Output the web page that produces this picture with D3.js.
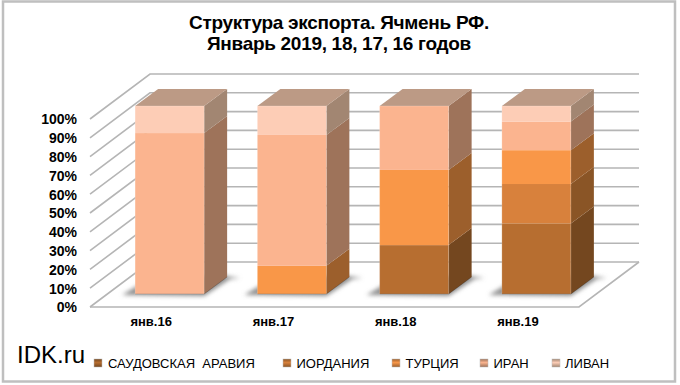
<!DOCTYPE html>
<html>
<head>
<meta charset="utf-8">
<script src="https://cdnjs.cloudflare.com/ajax/libs/d3/7.8.5/d3.min.js"></script>
<style>
  html, body { margin: 0; padding: 0; background: #fff; }
  svg { display: block; font-family: "Liberation Sans", Arial, sans-serif; }
  text { fill: #000; }
</style>
</head>
<body>
<svg id="chart" width="680" height="385"></svg>
<script>
const months = ["янв.16", "янв.17", "янв.18", "янв.19"];
const countries = ["САУДОВСКАЯ  АРАВИЯ", "ИОРДАНИЯ", "ТУРЦИЯ", "ИРАН", "ЛИВАН"];
const saudi = [0, 0, 26, 37.5];
const jordan = [0, 0, 0, 21];
const turkey = [0, 15, 40, 18];
const iran = [85.6, 69.6, 34, 15.2];
const lebanon = [14.4, 15.4, 0, 8.3];
const yTicks = [0, 10, 20, 30, 40, 50, 60, 70, 80, 90, 100];
const titleLines = ["Структура экспорта. Ячмень РФ.", "Январь 2019, 18, 17, 16 годов"];

const frontColors = ["#b76e30", "#d8813c", "#f99748", "#fbb48f", "#fdcdb6"];
const sideColors = ["#74471f", "#8a5526", "#9c5f2c", "#9e735a", "#a28672"];
const topColor = "#bc9a85";

const seriesValues = [saudi, jordan, turkey, iran, lebanon];
const rows = months.map((m, i) => {
    let r = { month: m };
    countries.forEach((c, k) => r[c] = seriesValues[k][i]);
    return r;
});

const svg = d3.select("#chart");

// the 3d box: front plane of the floor, then how far it goes back
const floor = { left: 90, right: 579, depthX: 60, depthY: -45 };
const bar = { width: 69, shiftX: 18.5, shiftY: -13, depthX: 23, depthY: -17 };

const x = d3.scaleBand().domain(months).range([floor.left, floor.right]);
const y = d3.scaleLinear().domain([0, 100]).range([307, 119]);
const stacked = d3.stack().keys(countries)(rows);

const defs = svg.append("defs");
defs.append("filter").attr("id", "soft")
    .attr("x", "-30%").attr("y", "-60%").attr("width", "160%").attr("height", "220%")
    .append("feGaussianBlur").attr("stdDeviation", 2.2);

frontColors.forEach((c, i) => {
    let g = defs.append("linearGradient").attr("id", "sw" + i)
        .attr("x1", 0).attr("y1", 0).attr("x2", 0).attr("y2", 1);
    g.append("stop").attr("offset", "0%").attr("stop-color", sideColors[i]);
    g.append("stop").attr("offset", "45%").attr("stop-color", c);
    g.append("stop").attr("offset", "100%").attr("stop-color", sideColors[i]);
});

// frame
svg.append("rect")
    .attr("x", 3).attr("y", 1.5)
    .attr("width", 672).attr("height", 380)
    .attr("fill", "#fff").attr("stroke", "#bfbfbf").attr("stroke-width", 2.5);

// title
svg.append("g").selectAll("text").data(titleLines).join("text")
    .attr("x", 339)
    .attr("y", (d, i) => 29 + i * 21)
    .attr("text-anchor", "middle")
    .attr("font-size", 19)
    .attr("font-weight", "bold")
    .attr("letter-spacing", -0.3)
    .text(d => d);

// grid: side wall diagonals + back wall
const grid = svg.append("g")
    .attr("fill", "none").attr("stroke", "#b5b5b5").attr("stroke-width", 1.6);
grid.selectAll("path").data(yTicks).join("path")
    .attr("d", t => d3.line()([
        [floor.left, y(t)],
        [floor.left + floor.depthX, y(t) + floor.depthY],
        [floor.right + floor.depthX, y(t) + floor.depthY]
    ]));
// floor outline
grid.append("path")
    .attr("d", d3.line()([
        [floor.left, y(0)],
        [floor.right, y(0)],
        [floor.right + floor.depthX, y(0) + floor.depthY]
    ]));

// bars
const barX = m => x(m) + x.bandwidth() / 2 + bar.shiftX - bar.width / 2;
const barY = v => y(v) + bar.shiftY;

// shadows on the floor
svg.append("g").selectAll("path").data(months).join("path")
    .attr("d", m => {
        let l = barX(m), b = barY(0);
        return d3.line()([
            [l - 13, b + 1], [l + bar.width, b + 2],
            [l + bar.width + bar.depthX + 3, b + bar.depthY + 2],
            [l + bar.width + bar.depthX + 13, b + bar.depthY + 1],
            [l + bar.width + bar.depthX - 8, b + bar.depthY - 2],
            [l + 12, b - 14]
        ]) + "Z";
    })
    .attr("fill", "#8f8f8f")
    .attr("filter", "url(#soft)");

const bars = svg.append("g").selectAll("g").data(months).join("g");

bars.each(function (m, i) {
    let g = d3.select(this);
    let l = barX(m), r = l + bar.width;
    stacked.forEach((s, k) => {
        let v0 = s[i][0], v1 = s[i][1];
        if (v1 - v0 <= 0) return;
        g.append("path")
            .attr("d", d3.line()([
                [r, barY(v0)], [r + bar.depthX, barY(v0) + bar.depthY],
                [r + bar.depthX, barY(v1) + bar.depthY], [r, barY(v1)]
            ]) + "Z")
            .attr("fill", sideColors[k]);
        g.append("rect")
            .attr("x", l).attr("y", barY(v1))
            .attr("width", bar.width).attr("height", barY(v0) - barY(v1))
            .attr("fill", frontColors[k]);
    });
    g.append("path")
        .attr("d", d3.line()([
            [l, barY(100)], [l + bar.depthX, barY(100) + bar.depthY],
            [r + bar.depthX, barY(100) + bar.depthY], [r, barY(100)]
        ]) + "Z")
        .attr("fill", topColor);
    // thin edge round the faces
    g.append("rect")
        .attr("x", l).attr("y", barY(100))
        .attr("width", bar.width).attr("height", barY(0) - barY(100))
        .attr("fill", "none").attr("stroke", "#fff").attr("stroke-opacity", 0.18);
    g.append("path")
        .attr("d", d3.line()([[l, barY(0)], [r, barY(0)], [r + bar.depthX, barY(0) + bar.depthY]]))
        .attr("fill", "none").attr("stroke", "#000").attr("stroke-opacity", 0.2);
});

// axes, labels only
const yAxis = d3.axisLeft(y).tickValues(yTicks).tickFormat(d => d + "%").tickSize(0).tickPadding(0);
const gy = svg.append("g").attr("transform", "translate(77,0.5)").call(yAxis);
gy.select(".domain").remove();
gy.selectAll("text").attr("font-size", 14).attr("font-weight", "bold")
    .attr("font-family", "Liberation Sans").attr("fill", "#000");

const xAxis = d3.axisBottom(x).tickSize(0).tickPadding(0);
const gx = svg.append("g").attr("transform", "translate(0,317)").call(xAxis);
gx.select(".domain").remove();
gx.selectAll("text").attr("font-size", 13).attr("font-weight", "bold")
    .attr("font-family", "Liberation Sans").attr("fill", "#000");

// legend
const legendX = [94, 283, 392, 480, 552];
const legend = svg.append("g").selectAll("g").data(countries).join("g")
    .attr("transform", (d, i) => "translate(" + legendX[i] + ",363)");
legend.append("rect")
    .attr("x", 0).attr("y", -4).attr("width", 8).attr("height", 8)
    .attr("fill", (d, i) => "url(#sw" + i + ")")
    .attr("stroke", "#bbb").attr("stroke-width", 0.5);
legend.append("text")
    .attr("x", (d, i) => i == 4 ? 13 : i == 0 ? 14 : 13.5)
    .attr("y", 4.5)
    .attr("font-size", 13)
    .style("white-space", "pre")
    .text(d => d);

svg.append("text")
    .attr("x", 17).attr("y", 363)
    .attr("font-size", 24)
    .text("IDK.ru");
</script>
</body>
</html>
